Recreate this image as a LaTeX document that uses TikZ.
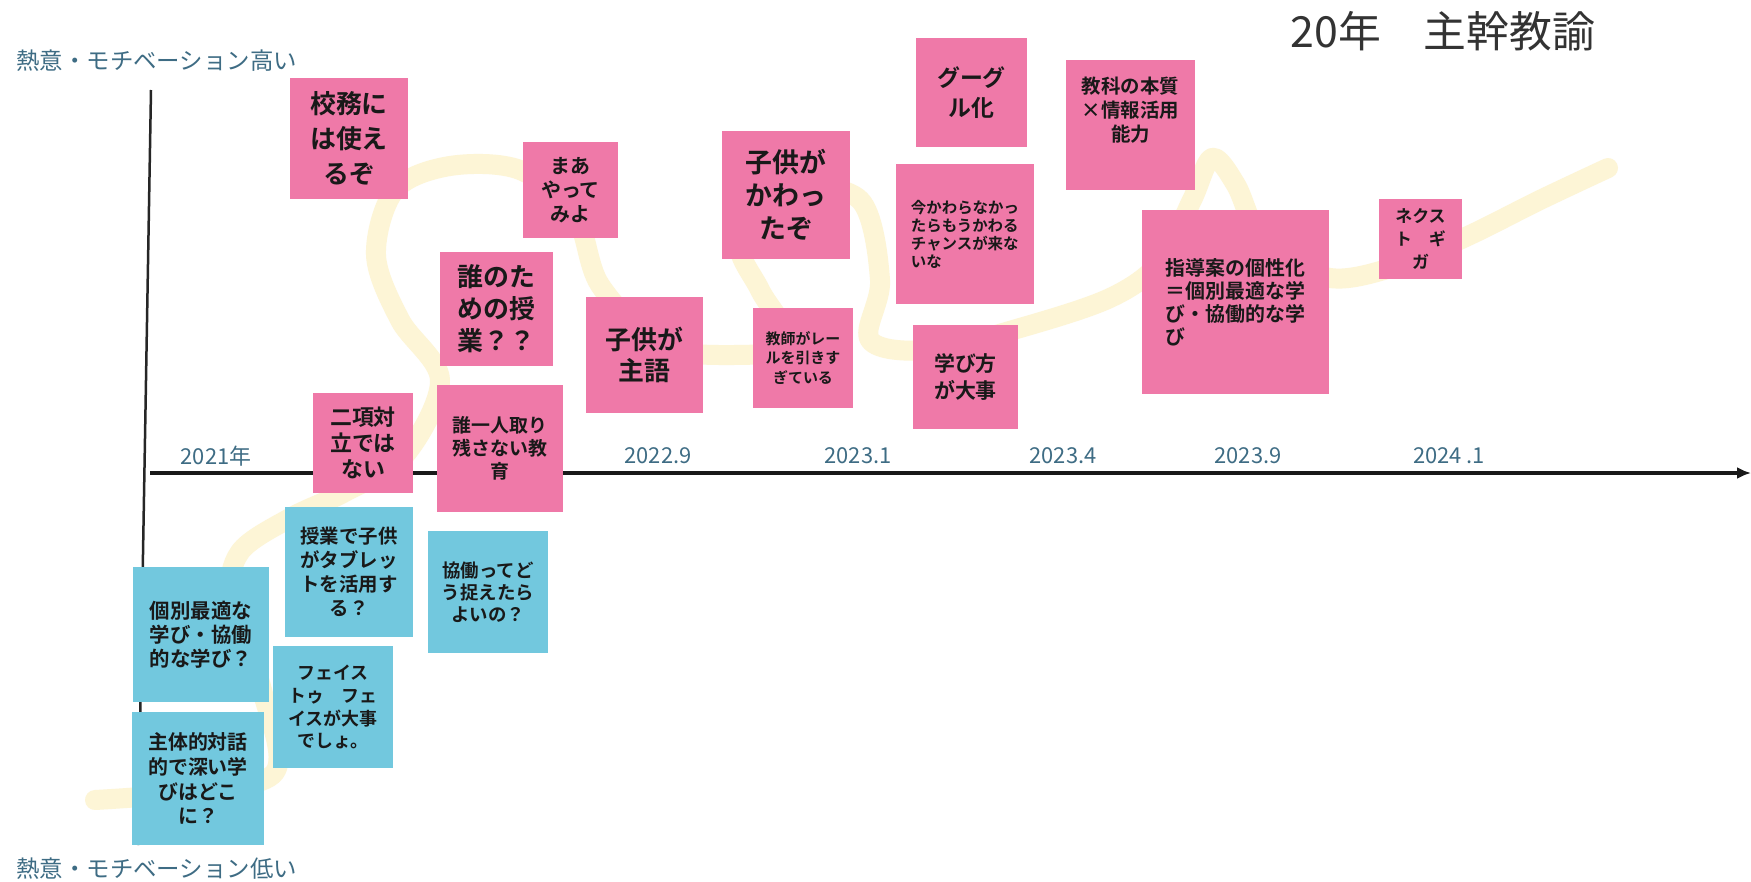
\documentclass[tikz,border=0pt]{standalone}
\usepackage{fontspec}
\setmainfont{Noto Sans CJK JP}
\newfontfamily\jpb{Noto Sans CJK JP Bold}
\usetikzlibrary{arrows.meta}
\definecolor{notepink}{RGB}{239,121,168}
\definecolor{noteblue}{RGB}{114,200,222}
\definecolor{curvey}{RGB}{253,245,214}
\definecolor{labelblue}{RGB}{62,108,132}
\definecolor{titlegray}{RGB}{51,51,51}

\begin{document}
\begin{tikzpicture}[>={Latex[length=14bp,width=12bp]},line join=bevel,
  note/.style={inner sep=0pt,align=center,text=black!90},
  pinknote/.style={note,fill=notepink},
  bluenote/.style={note,fill=noteblue},
  yearlbl/.style={text=labelblue,font=\fontsize{22}{24}\selectfont},
  axislbl/.style={text=labelblue,anchor=west,font=\fontsize{23.5}{25}\selectfont}]
  \useasboundingbox (0bp,0bp) rectangle (1751bp,-882bp);
  \fill [white] (0bp,0bp) rectangle (1751bp,-882bp);
  % motivation curve
  \draw [curvey,line width=20bp,line cap=round,line join=round] plot [smooth,tension=0.55]
  coordinates {(95bp,-800bp) (190bp,-792bp) (275bp,-772bp) (262bp,-690bp)
  (232bp,-600bp) (240bp,-552bp) (290bp,-518bp) (345bp,-492bp) (405bp,-455bp)
  (440bp,-380bp) (400bp,-320bp) (376bp,-255bp) (395bp,-190bp) (450bp,-166bp)
  (520bp,-170bp) (575bp,-215bp) (600bp,-285bp) (660bp,-345bp) (730bp,-355bp)
  (790bp,-345bp) (760bp,-290bp) (740bp,-240bp) (790bp,-190bp) (860bp,-200bp)
  (880bp,-280bp) (870bp,-340bp) (930bp,-350bp) (1020bp,-328bp) (1110bp,-298bp)
  (1160bp,-262bp) (1192bp,-200bp) (1212bp,-158bp) (1236bp,-185bp) (1265bp,-245bp)
  (1330bp,-278bp) (1400bp,-265bp) (1470bp,-235bp) (1540bp,-200bp) (1608bp,-168bp)};
  % axes
  \coordinate (vtop) at (151bp,-90bp); \coordinate (vbot) at (138bp,-845bp);
  \draw [line width=2.5bp,black!85] (vtop) -- (vbot);
  \coordinate (horig) at (150bp,-473bp); \coordinate (hend) at (1751bp,-473bp);
  \draw [->,line width=4bp,black!90] (horig) -- (hend);
  \node (high) at (13bp,-61bp) [axislbl] {熱意・モチベーション高い};
  \node (low) at (13bp,-869bp) [axislbl] {熱意・モチベーション低い};
  \node (title) at (1443bp,-31bp) [text=titlegray,font=\fontsize{43}{45}\selectfont] {20年　主幹教諭};
  \node (y2021) at (216bp,-456bp) [yearlbl] {2021年};
  \node (y2022) at (658bp,-456bp) [yearlbl] {2022.9};
  \node (y2023a) at (858bp,-456bp) [yearlbl] {2023.1};
  \node (y2023b) at (1063bp,-456bp) [yearlbl] {2023.4};
  \node (y2023c) at (1248bp,-456bp) [yearlbl] {2023.9};
  \node (y2024) at (1449bp,-456bp) [yearlbl] {2024 .1};
  % pink notes
  \node (kohmu) at (349bp,-138.5bp) [pinknote,minimum width=118bp,minimum height=121bp,
  font=\jpb\fontsize{26}{35}\selectfont] {校務に\\は使え\\るぞ};
  \node (maa) at (570.5bp,-190bp) [pinknote,minimum width=95bp,minimum height=96bp,
  font=\jpb\fontsize{20}{24}\selectfont] {まあ\\やって\\みよ};
  \node (kawatta) at (786bp,-195bp) [pinknote,minimum width=128bp,minimum height=128bp,
  font=\jpb\fontsize{27}{33}\selectfont] {子供が\\かわっ\\たぞ};
  \node (google) at (971.5bp,-92.5bp) [pinknote,minimum width=111bp,minimum height=109bp,
  font=\jpb\fontsize{23}{30}\selectfont] {グーグ\\ル化};
  \node (imakawara) at (965bp,-234bp) [pinknote,minimum width=138bp,minimum height=140bp,
  align=left,font=\jpb\fontsize{15.5}{18}\selectfont] {今かわらなかっ\\たらもうかわる\\チャンスが来な\\いな};
  \node (kyouka) at (1130.5bp,-125bp) [pinknote,minimum width=129bp,minimum height=130bp,
  font=\jpb\fontsize{19.5}{24}\selectfont] {教科の本質\\×情報活用\\能力\\[8bp]};
  \node (darenotame) at (496.5bp,-309bp) [pinknote,minimum width=113bp,minimum height=114bp,
  font=\jpb\fontsize{26}{32}\selectfont] {誰のた\\めの授\\業？？};
  \node (shugo) at (644.5bp,-355bp) [pinknote,minimum width=117bp,minimum height=116bp,
  font=\jpb\fontsize{26}{32}\selectfont] {子供が\\主語};
  \node (rail) at (803bp,-358bp) [pinknote,minimum width=100bp,minimum height=100bp,
  font=\jpb\fontsize{15}{20}\selectfont] {教師がレー\\ルを引きす\\ぎている};
  \node (manabikata) at (965.5bp,-377bp) [pinknote,minimum width=105bp,minimum height=104bp,
  font=\jpb\fontsize{21}{28}\selectfont] {学び方\\が大事};
  \node (shidouan) at (1235.5bp,-302bp) [pinknote,minimum width=187bp,minimum height=184bp,
  align=left,font=\jpb\fontsize{20}{23}\selectfont] {指導案の個性化\\＝個別最適な学\\び・協働的な学\\び};
  \node (nextgiga) at (1420.5bp,-239bp) [pinknote,minimum width=83bp,minimum height=80bp,
  font=\jpb\fontsize{17}{23}\selectfont] {ネクス\\ト　ギ\\ガ};
  \node (nikou) at (363bp,-443bp) [pinknote,minimum width=100bp,minimum height=100bp,
  font=\jpb\fontsize{22}{26}\selectfont] {二項対\\立では\\ない};
  \node (hitori) at (500bp,-448.5bp) [pinknote,minimum width=126bp,minimum height=127bp,
  font=\jpb\fontsize{19}{23}\selectfont] {誰一人取り\\残さない教\\育};
  % blue notes
  \node (tablet) at (349bp,-572bp) [bluenote,minimum width=128bp,minimum height=130bp,
  font=\jpb\fontsize{19.5}{24}\selectfont] {授業で子供\\がタブレッ\\トを活用す\\る？};
  \node (kyoudou) at (488bp,-592bp) [bluenote,minimum width=120bp,minimum height=122bp,
  font=\jpb\fontsize{18.5}{22}\selectfont] {協働ってど\\う捉えたら\\よいの？};
  \node (kobetsu) at (201bp,-634.5bp) [bluenote,minimum width=136bp,minimum height=135bp,
  font=\jpb\fontsize{20.5}{24}\selectfont] {個別最適な\\学び・協働\\的な学び？};
  \node (face) at (333bp,-707bp) [bluenote,minimum width=120bp,minimum height=122bp,
  font=\jpb\fontsize{18}{23}\selectfont] {フェイス\\トゥ　フェ\\イスが大事\\でしょ。};
  \node (shutai) at (198bp,-778.5bp) [bluenote,minimum width=132bp,minimum height=133bp,
  font=\jpb\fontsize{20}{25}\selectfont] {主体的対話\\的で深い学\\びはどこ\\に？};
\end{tikzpicture}
\end{document}
